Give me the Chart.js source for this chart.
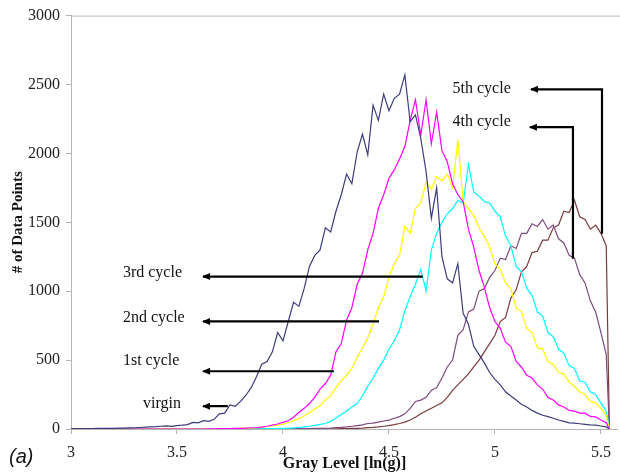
<!DOCTYPE html>
<html>
<head>
<meta charset="utf-8">
<script src="https://cdn.jsdelivr.net/npm/chart.js@4.4.1/dist/chart.umd.min.js"></script>
<style>
  html, body { margin: 0; padding: 0; background: #fff; }
  #wrap { width: 620px; height: 475px; }
</style>
</head>
<body>
<div id="wrap"><canvas id="histChart" width="620" height="475"></canvas></div>
<script>
// gray level grid: 3.000 .. 5.525 in steps of 0.025, then the cut-off at 5.54
const grayLevel = [];
for (let i = 0; i <= 101; i++) grayLevel.push(+(3 + i * 0.025).toFixed(3));
grayLevel.push(5.54);

const xTicks = [3, 3.5, 4, 4.5, 5, 5.5];
const yTicks = [0, 500, 1000, 1500, 2000, 2500, 3000];

const virgin = [
  2, 2, 3, 3, 3, 4, 4, 5, 5, 6,
  7, 8, 9, 11, 13, 15, 17, 20, 22, 19,
  25, 28, 32, 48, 45, 60, 55, 70, 110, 115,
  175, 165, 200, 245, 300, 380, 470, 490, 560, 700,
  640, 780, 920, 890, 1020, 1180, 1260, 1300, 1460, 1430,
  1580, 1700, 1850, 1780, 2010, 2140, 1990, 2350, 2240, 2430,
  2310, 2400, 2430, 2570, 2230, 2280, 2110, 1870, 1530, 1750,
  1250, 1090, 1060, 1200, 840, 760, 600, 540, 480, 410,
  360, 320, 270, 240, 210, 180, 160, 135, 115, 100,
  90, 78, 65, 55, 45, 42, 38, 34, 30, 28,
  22, 15, 0
];
const cycle1 = [
  0, 0, 0, 0, 0, 0, 0, 0, 0, 0,
  0, 0, 0, 0, 0, 0, 0, 0, 0, 0,
  0, 0, 0, 0, 0, 0, 1, 1, 2, 2,
  3, 4, 5, 7, 9, 11, 14, 20, 28, 36,
  48, 60, 85, 120, 150, 185, 230, 290, 330, 390,
  560, 620, 790, 880, 1050, 1130, 1300, 1420, 1600, 1700,
  1820, 1880, 1960, 2050, 2240, 2390, 2130, 2390, 2070, 2300,
  2020, 1940, 1780, 1700, 1650, 1450, 1320, 1150, 1030, 880,
  780, 730, 630, 600, 490, 450, 390, 370, 320, 290,
  230, 210, 175, 160, 135, 130, 115, 115, 92, 88,
  65, 45, 0
];
const cycle2 = [
  0, 0, 0, 0, 0, 0, 0, 0, 0, 0,
  0, 0, 0, 0, 0, 0, 0, 0, 0, 0,
  0, 0, 0, 0, 0, 0, 0, 1, 1, 2,
  2, 3, 4, 5, 8, 10, 14, 18, 22, 28,
  35, 45, 60, 75, 95, 120, 145, 170, 210, 240,
  300, 350, 390, 440, 520, 590, 660, 760, 880, 960,
  1100, 1200, 1260, 1470, 1420, 1600, 1640, 1790, 1740, 1830,
  1800, 1850, 1750, 2100, 1650, 1600, 1550, 1460, 1400, 1320,
  1200, 1160, 1060, 1020, 880, 850, 730, 700, 590, 580,
  490, 470, 410, 400, 340, 310, 270, 250, 200, 190,
  150, 100, 0
];
const cycle3 = [
  0, 0, 0, 0, 0, 0, 0, 0, 0, 0,
  0, 0, 0, 0, 0, 0, 0, 0, 0, 0,
  0, 0, 0, 0, 0, 0, 0, 0, 0, 0,
  0, 0, 0, 0, 0, 0, 1, 2, 2, 3,
  5, 6, 8, 11, 15, 20, 26, 33, 40, 55,
  80, 105, 130, 160, 185, 240, 310, 370, 440, 500,
  580, 640, 720, 860, 960, 1050, 1160, 1000, 1300, 1420,
  1500, 1560, 1600, 1660, 1640, 1920, 1720, 1690, 1650, 1640,
  1580, 1540, 1400, 1330, 1180, 1140, 1020, 970, 850, 820,
  700, 670, 580, 550, 460, 440, 350, 340, 270, 250,
  190, 130, 0
];
const cycle4 = [
  0, 0, 0, 0, 0, 0, 0, 0, 0, 0,
  0, 0, 0, 0, 0, 0, 0, 0, 0, 0,
  0, 0, 0, 0, 0, 0, 0, 0, 0, 0,
  0, 0, 0, 0, 0, 0, 0, 0, 0, 0,
  1, 1, 2, 2, 3, 3, 4, 4, 5, 7,
  10, 12, 15, 20, 25, 30, 40, 42, 50, 58,
  65, 78, 90, 110, 150, 200, 210, 230, 280, 300,
  370, 450, 500, 680, 720, 850, 870, 1000, 1020, 1100,
  1150, 1240, 1230, 1330, 1310, 1420, 1420, 1490, 1470, 1520,
  1450, 1480, 1380, 1350, 1260, 1240, 1120, 1060, 930, 850,
  700, 540, 0
];
const cycle5 = [
  0, 0, 0, 0, 0, 0, 0, 0, 0, 0,
  0, 0, 0, 0, 0, 0, 0, 0, 0, 0,
  0, 0, 0, 0, 0, 0, 0, 0, 0, 0,
  0, 0, 0, 0, 0, 0, 0, 0, 0, 0,
  0, 0, 0, 0, 0, 0, 0, 0, 0, 0,
  1, 2, 3, 4, 5, 7, 10, 12, 15, 20,
  25, 32, 40, 50, 65, 85, 110, 130, 150, 170,
  190, 230, 280, 320, 360, 400, 450, 500, 560, 620,
  680, 780, 810, 950, 1010, 1140, 1180, 1280, 1290, 1370,
  1370, 1460, 1480, 1580, 1570, 1660, 1540, 1520, 1450, 1480,
  1420, 1330, 0
];

const seriesNames = ['virgin', '1st cycle', '2nd cycle', '3rd cycle', '4th cycle', '5th cycle'];
const seriesValues = [virgin, cycle1, cycle2, cycle3, cycle4, cycle5];
const seriesColors = ['#3c3c7c', '#ff00ff', '#ffff00', '#00ffff', '#7e4a7e', '#7a3a3a'];

// label text anchors and arrow paths, in data units
const notes = [
  { text: 'virgin', at: [3.34, 181] },
  { text: '1st cycle', at: [3.245, 492] },
  { text: '2nd cycle', at: [3.245, 810] },
  { text: '3rd cycle', at: [3.245, 1135] },
  { text: '4th cycle', at: [4.80, 2227] },
  { text: '5th cycle', at: [4.80, 2472] }
];
const arrows = [
  [[3.74, 166], [3.623, 166]],
  [[4.24, 419], [3.623, 419]],
  [[4.453, 781], [3.623, 781]],
  [[4.66, 1106], [3.623, 1106]],
  [[5.368, 1236], [5.368, 2190], [5.165, 2190]],
  [[5.505, 1417], [5.505, 2465], [5.17, 2465]]
];

const annotationPlugin = {
  id: 'annotations',
  afterDatasetsDraw(chart) {
    const { ctx, chartArea, scales: { x, y } } = chart;
    ctx.save();
    // top border of plot area
    ctx.strokeStyle = '#bdbdbd';
    ctx.lineWidth = 1;
    ctx.beginPath();
    ctx.moveTo(chartArea.left, chartArea.top + 0.5);
    ctx.lineTo(chart.width, chartArea.top + 0.5);
    ctx.stroke();

    ctx.strokeStyle = '#000';
    ctx.fillStyle = '#000';
    ctx.lineWidth = 2.2;
    arrows.forEach(path => {
      const pts = path.map(p => [x.getPixelForValue(p[0]), y.getPixelForValue(p[1])]);
      ctx.beginPath();
      pts.forEach((p, i) => i ? ctx.lineTo(p[0], p[1]) : ctx.moveTo(p[0], p[1]));
      ctx.stroke();
      const tip = pts[pts.length - 1];
      ctx.beginPath();
      ctx.moveTo(tip[0] - 1, tip[1]);
      ctx.lineTo(tip[0] + 7, tip[1] - 3.5);
      ctx.lineTo(tip[0] + 7, tip[1] + 3.5);
      ctx.closePath();
      ctx.fill();
    });

    ctx.font = '16px "Liberation Serif", "DejaVu Serif", serif';
    ctx.textAlign = 'left';
    ctx.textBaseline = 'middle';
    ctx.fillStyle = '#111';
    notes.forEach(n => {
      ctx.fillText(n.text, x.getPixelForValue(n.at[0]), y.getPixelForValue(n.at[1]));
    });

    ctx.font = 'italic 20px "Liberation Sans", Arial, sans-serif';
    ctx.fillText('(a)', 9, 457);
    ctx.restore();
  }
};

const ctx = document.getElementById('histChart').getContext('2d');
new Chart(ctx, {
  type: 'line',
  data: {
    datasets: seriesValues.map((vals, k) => ({
      label: seriesNames[k],
      data: vals.map((v, i) => ({ x: grayLevel[i], y: v })),
      borderColor: seriesColors[k],
      borderWidth: 1.2,
      pointRadius: 0,
      tension: 0,
      fill: false
    }))
  },
  options: {
    responsive: false,
    animation: false,
    layout: { padding: { top: 14, right: 2, left: 0, bottom: 0 } },
    plugins: { legend: { display: false }, tooltip: { enabled: false } },
    scales: {
      x: {
        type: 'linear',
        min: 3,
        max: 5.58,
        afterBuildTicks: s => { s.ticks = xTicks.map(v => ({ value: v })); },
        afterFit: s => { s.height = 46; },
        ticks: {
          color: '#222', padding: 9,
          font: { family: '"Liberation Serif", serif', size: 16 },
          callback: v => String(v)
        },
        grid: { drawOnChartArea: false, tickLength: 5, color: '#b5b5b5' },
        border: { color: '#b5b5b5' },
        title: {
          display: true,
          text: 'Gray Level [ln(g)]',
          color: '#111',
          font: { family: '"Liberation Serif", serif', size: 16, weight: 'bold' },
          padding: { top: 0, bottom: 2 }
        }
      },
      y: {
        min: 0,
        max: 3000,
        afterBuildTicks: s => { s.ticks = yTicks.map(v => ({ value: v })); },
        afterFit: s => { s.width = 71; },
        ticks: {
          color: '#222', padding: 6,
          font: { family: '"Liberation Serif", serif', size: 16 },
          callback: v => String(v)
        },
        grid: { drawOnChartArea: false, tickLength: 5, color: '#b5b5b5' },
        border: { color: '#b5b5b5' },
        title: {
          display: true,
          text: '# of Data Points',
          color: '#111',
          font: { family: '"Liberation Serif", serif', size: 15, weight: 'bold' },
          padding: { top: 9, bottom: 0 }
        }
      }
    }
  },
  plugins: [annotationPlugin]
});
</script>
</body>
</html>
